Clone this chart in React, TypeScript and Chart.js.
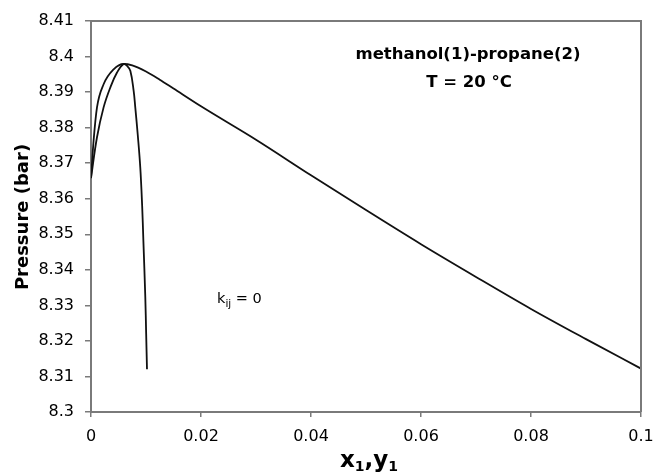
import React, { useEffect, useRef } from 'react';
import { Chart, registerables } from 'chart.js';

Chart.register(...registerables);

// Liquid phase (x1) – bubble curve
const liquidX = [0, 0.00047, 0.00109, 0.00229, 0.00411, 0.00593, 0.0075, 0.01, 0.0125, 0.015, 0.02, 0.03, 0.04, 0.05, 0.06, 0.07, 0.08, 0.09, 0.1];
const liquidP = [8.3658, 8.3763, 8.3857, 8.3922, 8.3964, 8.3979, 8.3975, 8.3958, 8.3935, 8.391, 8.386, 8.3766, 8.3666, 8.3568, 8.3472, 8.338, 8.329, 8.3205, 8.3122];

// Vapour phase (y1) – dew curve
const vaporX = [0, 0.00109, 0.00229, 0.00351, 0.00473, 0.00593, 0.00656, 0.00715, 0.00775, 0.00805, 0.0085, 0.00896, 0.0093, 0.00952, 0.00987, 0.01003, 0.01018];
const vaporP = [8.3658, 8.3773, 8.3857, 8.3913, 8.3955, 8.3979, 8.3974, 8.396, 8.3904, 8.3857, 8.378, 8.3688, 8.358, 8.3483, 8.3324, 8.322, 8.312];

const xTicks = [0, 0.02, 0.04, 0.06, 0.08, 0.1];
const xTickLabels = ['0', '0.02', '0.04', '0.06', '0.08', '0.1'];
const yTicks = [8.3, 8.31, 8.32, 8.33, 8.34, 8.35, 8.36, 8.37, 8.38, 8.39, 8.4, 8.41];
const yTickLabels = ['8.3', '8.31', '8.32', '8.33', '8.34', '8.35', '8.36', '8.37', '8.38', '8.39', '8.4', '8.41'];

const titleLines = ['methanol(1)-propane(2)', 'T = 20 °C'];
const yTitle = 'Pressure (bar)';
const FONT = 'DejaVu Sans';
const AXIS_COLOR = '#7a7a7a';

const textPlugin = {
  id: 'textPlugin',
  afterDraw(chart: any) {
    const { ctx, chartArea } = chart;
    ctx.save();
    // top & right frame
    ctx.strokeStyle = AXIS_COLOR;
    ctx.lineWidth = 2;
    ctx.beginPath();
    ctx.moveTo(chartArea.left, chartArea.top);
    ctx.lineTo(chartArea.right, chartArea.top);
    ctx.lineTo(chartArea.right, chartArea.bottom);
    ctx.stroke();

    ctx.fillStyle = '#000';
    // title
    ctx.font = `bold 16.5px "${FONT}"`;
    ctx.textAlign = 'center';
    ctx.textBaseline = 'alphabetic';
    ctx.fillText(titleLines[0], 468, 59);
    ctx.fillText(titleLines[1], 469, 87);

    // y title
    ctx.save();
    ctx.translate(28, 217);
    ctx.rotate(-Math.PI / 2);
    ctx.font = `bold 18px "${FONT}"`;
    ctx.textAlign = 'center';
    ctx.fillText(yTitle, 0, 0);
    ctx.restore();

    // x title: x1,y1 with subscripts
    const parts: [string, number, number][] = [
      ['x', 23, 0], ['1', 14, 4], [',', 23, 0], ['y', 23, 0], ['1', 14, 4],
    ];
    let total = 0;
    parts.forEach(([t, s]) => { ctx.font = `bold ${s}px "${FONT}"`; total += ctx.measureText(t).width; });
    let x = 369 - total / 2;
    ctx.textAlign = 'left';
    parts.forEach(([t, s, dy]) => {
      ctx.font = `bold ${s}px "${FONT}"`;
      ctx.fillText(t, x, 467 + dy);
      x += ctx.measureText(t).width;
    });

    // annotation kij = 0
    const ann: [string, number, number][] = [['k', 14.5, 0], ['ij', 10.5, 4], [' = 0', 14.5, 0]];
    x = 217;
    ann.forEach(([t, s, dy]) => {
      ctx.font = `${s}px "${FONT}"`;
      ctx.fillText(t, x, 303 + dy);
      x += ctx.measureText(t).width;
    });
    ctx.restore();
  },
};

export default function App() {
  const ref = useRef<HTMLCanvasElement>(null);
  useEffect(() => {
    if (!ref.current) return;
    const chart = new Chart(ref.current, {
      type: 'scatter',
      data: {
        datasets: [
          {
            label: 'x1',
            data: liquidX.map((v, i) => ({ x: v, y: liquidP[i] })),
            showLine: true,
            borderColor: '#111',
            borderWidth: 1.8,
            pointRadius: 0,
            cubicInterpolationMode: 'monotone',
          },
          {
            label: 'y1',
            data: vaporX.map((v, i) => ({ x: v, y: vaporP[i] })),
            showLine: true,
            borderColor: '#111',
            borderWidth: 1.8,
            pointRadius: 0,
            tension: 0.4,
          },
        ],
      },
      options: {
        responsive: false,
        animation: false,
        layout: { padding: { top: 21, right: 12, left: 0, bottom: 0 } },
        plugins: { legend: { display: false }, tooltip: { enabled: false } },
        scales: {
          x: {
            type: 'linear',
            min: 0,
            max: 0.1,
            afterBuildTicks: (s: any) => { s.ticks = xTicks.map((v) => ({ value: v })); },
            afterFit: (s: any) => { s.height = 61; s.paddingRight = 0; s.paddingLeft = 0; },
            ticks: {
              callback: (_v: any, i: number) => xTickLabels[i],
              font: { family: FONT, size: 16 },
              color: '#000',
              padding: 10,
              maxRotation: 0,
            },
            grid: { drawOnChartArea: false, drawTicks: true, tickLength: 5, color: AXIS_COLOR, lineWidth: 1.5 },
            border: { display: true, color: AXIS_COLOR, width: 2 },
          },
          y: {
            type: 'linear',
            min: 8.3,
            max: 8.41,
            afterBuildTicks: (s: any) => { s.ticks = yTicks.map((v) => ({ value: v })); },
            afterFit: (s: any) => { s.width = 91; s.paddingTop = 0; s.paddingBottom = 0; },
            ticks: {
              callback: (_v: any, i: number) => yTickLabels[i],
              font: { family: FONT, size: 16 },
              color: '#000',
              padding: 11,
            },
            grid: { drawOnChartArea: false, drawTicks: true, tickLength: 6, color: AXIS_COLOR, lineWidth: 1.5 },
            border: { display: true, color: AXIS_COLOR, width: 2 },
          },
        },
      },
      plugins: [textPlugin],
    });
    return () => chart.destroy();
  }, []);
  return (
    <div style={{ position: 'fixed', left: 0, top: 0, width: 653, height: 473, background: '#fff' }}>
      <canvas ref={ref} width={653} height={473} />
    </div>
  );
}
